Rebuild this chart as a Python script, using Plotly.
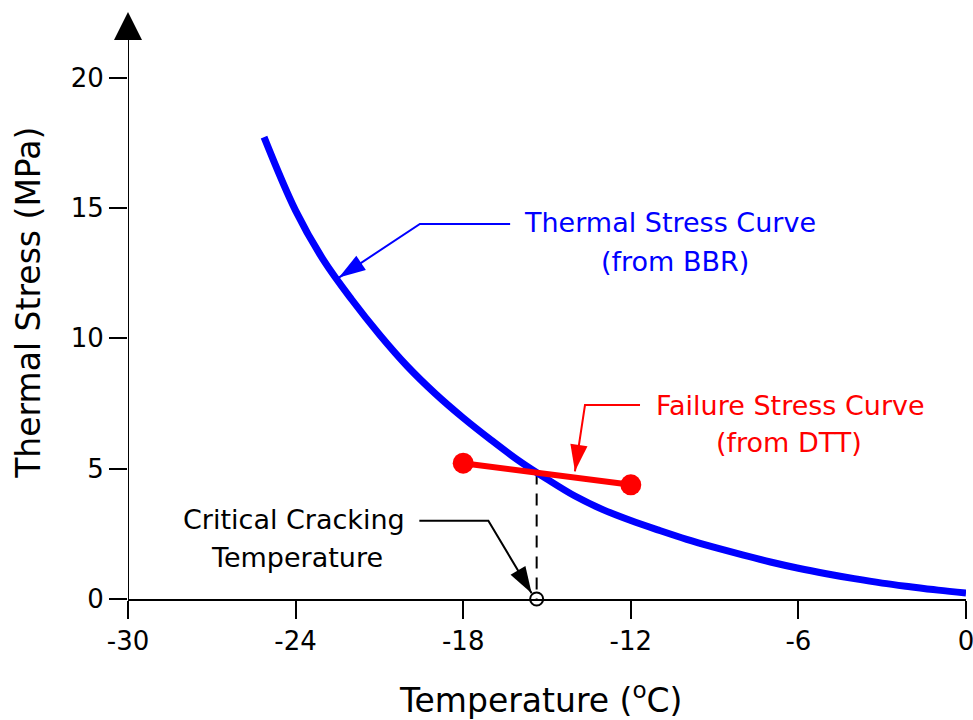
import plotly.graph_objects as go

# Thermal stress curve from BBR data (temperature in degC, stress in MPa)
bbr_temp = [-25.13, -24, -23, -22, -21, -20, -19, -18, -17, -16, -15, -14, -13,
            -12, -11, -10, -9, -8, -7, -6, -5, -4, -3, -2, -1, 0]
bbr_stress = [17.72, 14.90, 13.0, 11.5, 10.15, 8.93, 7.88, 6.95, 6.10, 5.30, 4.60, 3.95, 3.43,
              3.01, 2.64, 2.29, 1.98, 1.69, 1.42, 1.18, 0.97, 0.78, 0.61, 0.47, 0.34, 0.23]

# Failure stress line from DTT data
dtt_temp = [-18.0, -12.0]
dtt_stress = [5.21, 4.38]

# Critical cracking temperature: where the two curves cross
critical_temp = -15.37
critical_stress = 4.85

# Axis ticks
x_ticks = [-30, -24, -18, -12, -6, 0]
x_tick_labels = ["-30", "-24", "-18", "-12", "-6", "0"]
y_ticks = [0, 5, 10, 15, 20]
y_tick_labels = ["0", "5", "10", "15", "20"]
x_range = [-30, 0]
y_range = [0, 22.52]          # the top of the range is the tip of the axis arrow
y_line_top = 21.45            # where the axis line meets the arrow head

# Callout leader lines: text end -> bend -> arrow tip
bbr_leader_t = [-16.32, -19.55, -22.45]
bbr_leader_s = [14.39, 14.39, 12.33]
dtt_leader_t = [-11.67, -13.64, -14.0]
dtt_leader_s = [7.44, 7.44, 4.9]
crit_leader_t = [-19.57, -17.1, -15.55]
crit_leader_s = [3.0, 3.0, 0.22]

BLUE = "#0000FF"
RED = "#FF0000"
FONT = "DejaVu Sans"

fig = go.Figure()

# dashed drop line from the crossing point down to the temperature axis
fig.add_trace(go.Scatter(
    x=[critical_temp, critical_temp], y=[critical_stress, 0],
    mode="lines", line=dict(color="black", width=2, dash="12px,9px"),
    hoverinfo="skip"))

# thermal stress curve
fig.add_trace(go.Scatter(
    x=bbr_temp, y=bbr_stress, mode="lines",
    line=dict(color=BLUE, width=7, shape="spline", smoothing=1.0),
    cliponaxis=False))

# failure stress line with end points
fig.add_trace(go.Scatter(
    x=dtt_temp, y=dtt_stress, mode="lines+markers",
    line=dict(color=RED, width=6),
    marker=dict(color=RED, size=21, opacity=1, line=dict(width=0)),
    cliponaxis=False))

# open circle marking the critical cracking temperature
fig.add_trace(go.Scatter(
    x=[critical_temp], y=[0], mode="markers",
    marker=dict(symbol="circle-open", size=13, color="black", line=dict(width=2)),
    cliponaxis=False))


def leader(ts, ss, color):
    fig.add_trace(go.Scatter(
        x=ts, y=ss, mode="lines+markers",
        line=dict(color=color, width=2),
        marker=dict(symbol="arrow", angleref="previous", size=[0, 0, 28],
                    color=color, opacity=1, line=dict(width=0)),
        cliponaxis=False, hoverinfo="skip"))


leader(bbr_leader_t, bbr_leader_s, BLUE)
leader(dtt_leader_t, dtt_leader_s, RED)
leader(crit_leader_t, crit_leader_s, "black")

# arrow head at the top of the stress axis
fig.add_trace(go.Scatter(
    x=[x_range[0]], y=[y_range[1]], mode="markers",
    marker=dict(symbol="arrow-up", size=28, color="black", opacity=1, line=dict(width=0)),
    cliponaxis=False, hoverinfo="skip"))

labels = [
    ("Thermal Stress Curve", -10.59, 14.44, BLUE),
    ("(from BBR)", -10.41, 12.95, BLUE),
    ("Failure Stress Curve", -6.30, 7.44, RED),
    ("(from DTT)", -6.32, 6.00, RED),
    ("Critical Cracking", -24.04, 3.04, "black"),
    ("Temperature", -23.96, 1.58, "black"),
]
annotations = [
    dict(text=t, x=x, y=y, xref="x", yref="y", xanchor="center", yanchor="middle",
         showarrow=False, font=dict(family=FONT, size=27, color=c))
    for t, x, y, c in labels
]
annotations.append(dict(
    text="Temperature (<sup>o</sup>C)", x=0.4926, y=-0.1687, xref="paper", yref="paper",
    xanchor="center", yanchor="middle", showarrow=False,
    font=dict(family=FONT, size=33, color="black")))
annotations.append(dict(
    text="Thermal Stress (MPa)", x=-0.119, y=0.5051, xref="paper", yref="paper",
    xanchor="center", yanchor="middle", textangle=-90, showarrow=False,
    font=dict(family=FONT, size=33, color="black")))

fig.update_layout(
    width=973, height=720,
    margin=dict(l=128, r=7, t=12, b=121, autoexpand=False),
    plot_bgcolor="white", paper_bgcolor="white",
    showlegend=False,
    font=dict(family=FONT, size=26, color="black"),
    annotations=annotations,
)
axis_common = dict(
    ticks="outside", ticklen=18, tickwidth=2, tickcolor="black",
    showgrid=False, zeroline=False, ticklabeloverflow="allow", automargin=False,
    tickfont=dict(family=FONT, size=26, color="black"),
)
fig.update_xaxes(range=x_range, tickvals=x_ticks, ticktext=x_tick_labels,
                 showline=True, linewidth=2, linecolor="black", **axis_common)
fig.update_yaxes(range=y_range, tickvals=y_ticks, ticktext=y_tick_labels,
                 showline=False, **axis_common)

# stress axis line, ending under the arrow head
fig.add_shape(type="line", xref="x", yref="y",
              x0=x_range[0], x1=x_range[0], y0=y_range[0], y1=y_line_top,
              line=dict(color="black", width=2), layer="above")

fig.write_html("out.html", config={"displayModeBar": False})
